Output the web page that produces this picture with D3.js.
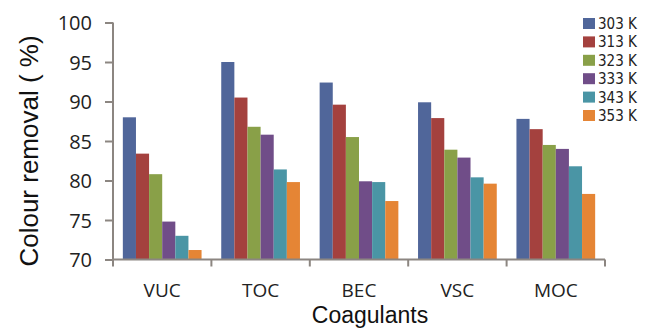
<!DOCTYPE html>
<html><head><meta charset="utf-8">
<script src="https://cdn.jsdelivr.net/npm/d3@7"></script>
<style>body{margin:0;background:#fff}svg{display:block}</style>
</head><body>
<svg id="c" width="645" height="329"></svg>
<script>
const categories = ["VUC","TOC","BEC","VSC","MOC"];
const seriesNames = ["303 K","313 K","323 K","333 K","343 K","353 K"];
const s303 = [88.0, 95.0, 92.4, 89.9, 87.8];
const s313 = [83.4, 90.5, 89.6, 87.9, 86.5];
const s323 = [80.8, 86.8, 85.5, 83.9, 84.5];
const s333 = [74.8, 85.8, 79.9, 82.9, 84.0];
const s343 = [73.0, 81.4, 79.8, 80.4, 81.8];
const s353 = [71.2, 79.8, 77.4, 79.6, 78.3];
const yTicks = [70,75,80,85,90,95,100];
const colors = ["#50669a","#a4413e","#89a048","#704d88","#4a95a5","#e58535"];
const series = [s303,s313,s323,s333,s343,s353];

const svg = d3.select("#c");
const L = 113, R = 605, T = 22.5, B = 259.5;
const x0 = d3.scaleBand().domain(categories).range([L, R]).padding(0);
const x1 = d3.scaleBand().domain(seriesNames).range([x0.bandwidth()*0.1, x0.bandwidth()*0.9]).padding(0);
const y = d3.scaleLinear().domain([70,100]).range([B, T]);
const axisColor = "#8c8681";
const tickFont = "'Open Sans','DejaVu Sans',sans-serif";
const legFont = "'DejaVu Sans Condensed','DejaVu Sans',sans-serif";
const titleFont = "'Liberation Sans',Arial,sans-serif";

const g = svg.append("g");
categories.forEach((c, ci) => {
  seriesNames.forEach((s, si) => {
    g.append("rect")
      .attr("x", x0(c) + x1(s))
      .attr("y", y(series[si][ci]))
      .attr("width", x1.bandwidth())
      .attr("height", y(70) - y(series[si][ci]))
      .attr("fill", colors[si]);
  });
});

// y axis
const yAxis = svg.append("g").attr("transform", `translate(${L},0)`)
  .call(d3.axisLeft(y).tickValues(yTicks).tickSize(8).tickPadding(13));
yAxis.select(".domain").attr("stroke", axisColor).attr("stroke-width", 2).attr("d", `M0,${T}V${B}`);
yAxis.selectAll(".tick line").attr("stroke", axisColor).attr("stroke-width", 2);
yAxis.selectAll(".tick text").attr("font-family", tickFont)
  .attr("font-size", 20).attr("fill", "#222").attr("dy", "0.36em");

// x axis
const xAxis = svg.append("g").attr("transform", `translate(0,${B})`)
  .call(d3.axisBottom(x0).tickSize(0));
xAxis.select(".domain").attr("stroke", axisColor).attr("stroke-width", 2).attr("d", `M${L},0H${R}`);
xAxis.selectAll(".tick text").attr("font-family", tickFont)
  .attr("font-size", 19).attr("fill", "#222").attr("y", 37).attr("dy", 0);
const bounds = categories.map(c => x0(c)).concat([R]);
xAxis.selectAll("line.sep").data(bounds).enter().append("line")
  .attr("x1", d => d).attr("x2", d => d).attr("y1", 0).attr("y2", 7)
  .attr("stroke", axisColor).attr("stroke-width", 2);

// titles
svg.append("text").attr("x", 370).attr("y", 323).attr("text-anchor", "middle")
  .attr("font-family", titleFont).attr("font-size", 23).attr("fill", "#111")
  .text("Coagulants");
svg.append("text").attr("transform", "translate(38,151) rotate(-90)").attr("text-anchor", "middle")
  .attr("font-family", titleFont).attr("font-size", 26).attr("fill", "#111")
  .text("Colour removal ( %)");

// legend
const leg = svg.append("g");
seriesNames.forEach((s, i) => {
  const cy = 23.5 + i * 18.4;
  leg.append("rect").attr("x", 583).attr("y", cy - 5.5).attr("width", 12).attr("height", 11).attr("fill", colors[i]);
  leg.append("text").attr("x", 598).attr("y", cy).attr("dy", "0.36em")
    .attr("font-family", legFont).attr("font-size", 15).attr("fill", "#222")
    .text(s);
});
</script>
</body></html>
